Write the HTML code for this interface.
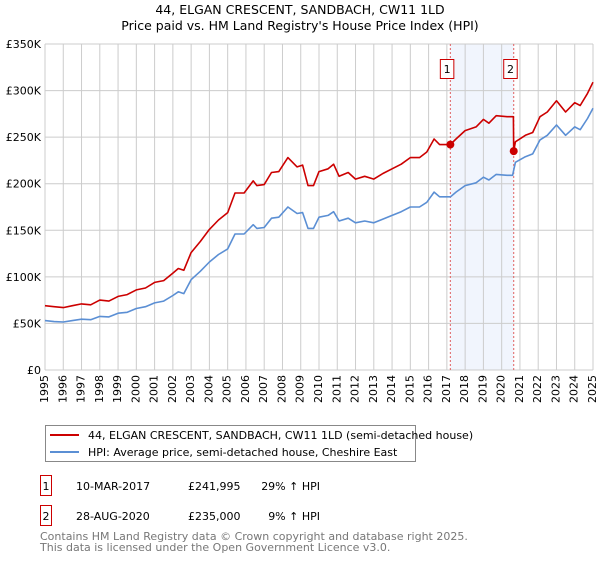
<!DOCTYPE html>
<html><head><meta charset="utf-8"><style>
body{margin:0;background:#fff;font-family:"Liberation Sans","DejaVu Sans",sans-serif;}
</style></head><body>
<svg width="600" height="560" viewBox="0 0 600 560" xmlns="http://www.w3.org/2000/svg" font-family="DejaVu Sans, Liberation Sans, sans-serif">
<text x="300" y="14" text-anchor="middle" font-size="12.5" fill="#000">44, ELGAN CRESCENT, SANDBACH, CW11 1LD</text>
<text x="300" y="30" text-anchor="middle" font-size="12.5" fill="#000">Price paid vs. HM Land Registry's House Price Index (HPI)</text>
<g id="plot"></g>
<g>
<rect x="45.5" y="425.5" width="370" height="36" fill="#fff" stroke="#888"/>
<line x1="50" y1="435" x2="79" y2="435" stroke="#cc0000" stroke-width="2"/>
<text x="88" y="439" font-size="11">44, ELGAN CRESCENT, SANDBACH, CW11 1LD (semi-detached house)</text>
<line x1="50" y1="452" x2="79" y2="452" stroke="#5b8fd4" stroke-width="2"/>
<text x="88" y="456" font-size="11">HPI: Average price, semi-detached house, Cheshire East</text>
</g>
<g font-size="11">
<rect x="40.5" y="475.5" width="11" height="20" fill="#fff" stroke="#cc0000"/>
<text x="46" y="490" text-anchor="middle">1</text>
<text x="76" y="490">10-MAR-2017</text>
<text x="188" y="490">£241,995</text>
<text x="320" y="490" text-anchor="end">29% ↑ HPI</text>
<rect x="40.5" y="505.5" width="11" height="20" fill="#fff" stroke="#cc0000"/>
<text x="46" y="520" text-anchor="middle">2</text>
<text x="76" y="520">28-AUG-2020</text>
<text x="188" y="520">£235,000</text>
<text x="320" y="520" text-anchor="end">9% ↑ HPI</text>
</g>
<text x="40" y="540" font-size="11" fill="#777">Contains HM Land Registry data © Crown copyright and database right 2025.</text>
<text x="40" y="551" font-size="11" fill="#777">This data is licensed under the Open Government Licence v3.0.</text>
</svg>
<script>
const hpiDates=[1995.0,1995.5,1996.0,1996.5,1997.0,1997.5,1998.0,1998.5,1999.0,1999.5,2000.0,2000.5,2001.0,2001.5,2002.0,2002.3,2002.6,2003.0,2003.5,2004.0,2004.5,2005.0,2005.4,2005.9,2006.4,2006.6,2007.0,2007.4,2007.8,2008.3,2008.8,2009.1,2009.4,2009.7,2010.0,2010.5,2010.8,2011.1,2011.6,2012.0,2012.5,2013.0,2013.5,2014.0,2014.5,2015.0,2015.5,2015.9,2016.3,2016.6,2017.2,2017.5,2018.0,2018.6,2019.0,2019.3,2019.7,2020.3,2020.6,2020.75,2021.3,2021.7,2022.1,2022.5,2023.0,2023.5,2024.0,2024.3,2024.7,2025.0];
const hpiValues=[53,52,51.5,53,54.5,54,57.5,57,61,62,66,68,72,74,80,84,82,97,106,116,124,130,146,146,156,152,153,163,164,175,168,169,152,152,164,166,170,160,163,158,160,158,162,166,170,175,175,180,191,186,186,191,198,201,207,204,210,209,209,223,229,232,247,252,263,252,261,258,270,281];
const priceDates=[1995.0,1995.5,1996.0,1996.5,1997.0,1997.5,1998.0,1998.5,1999.0,1999.5,2000.0,2000.5,2001.0,2001.5,2002.0,2002.3,2002.6,2003.0,2003.5,2004.0,2004.5,2005.0,2005.4,2005.9,2006.4,2006.6,2007.0,2007.4,2007.8,2008.3,2008.8,2009.1,2009.4,2009.7,2010.0,2010.5,2010.8,2011.1,2011.6,2012.0,2012.5,2013.0,2013.5,2014.0,2014.5,2015.0,2015.5,2015.9,2016.3,2016.6,2017.19,2017.5,2018.0,2018.6,2019.0,2019.3,2019.7,2020.3,2020.64,2020.66,2020.75,2021.3,2021.7,2022.1,2022.5,2023.0,2023.5,2024.0,2024.3,2024.7,2025.0];
const priceValues=[69,68,67,69,71,70,75,74,79,81,86,88,94,96,104,109,107,126,138,151,161,169,190,190,203,198,199,212,213,228,218,220,198,198,213,216,221,208,212,205,208,205,211,216,221,228,228,234,248,242,242,248,257,261,269,265,273,272,272,235,245,252,255,272,277,289,277,287,284,297,309];
const saleDates=[2017.19,2020.66];
const saleValues=[241.995,235];
const saleLabels=["1","2"];
const yTicks=[0,50,100,150,200,250,300,350];
const yTickLabels=["£0","£50K","£100K","£150K","£200K","£250K","£300K","£350K"];
const xYears=[1995,1996,1997,1998,1999,2000,2001,2002,2003,2004,2005,2006,2007,2008,2009,2010,2011,2012,2013,2014,2015,2016,2017,2018,2019,2020,2021,2022,2023,2024,2025];

const X0=45,X1=593,Y0=370,Y1=44;
const xs=d=>X0+(d-1995)/30*(X1-X0);
const ys=v=>Y0-v/350*(Y0-Y1);
const NS="http://www.w3.org/2000/svg";
const g=document.getElementById('plot');
function mk(t,a,p){const e=document.createElementNS(NS,t);for(const k in a)e.setAttribute(k,a[k]);(p||g).appendChild(e);return e;}

const band=mk('rect',{x:xs(saleDates[0]),y:Y1,width:xs(saleDates[1])-xs(saleDates[0]),height:Y0-Y1,fill:'#eef3fc',opacity:0.8});


xYears.forEach(yr=>{
 const l=mk('line',{x1:xs(yr),x2:xs(yr),y1:Y1,y2:Y0,stroke:'#cccccc','stroke-width':1});
 
 
 const t=mk('text',{x:0,y:0,'font-size':11,'text-anchor':'end','dominant-baseline':'middle',transform:`translate(${xs(yr)},375) rotate(-90)`});
 t.textContent=yr;
 
 
});
yTicks.forEach((v,i)=>{
 const l=mk('line',{x1:X0,x2:X1,y1:ys(v),y2:ys(v),stroke:'#cccccc','stroke-width':1});
 
 
 const t=mk('text',{x:41,y:ys(v)+4,'font-size':11,'text-anchor':'end'});
 t.textContent=yTickLabels[i];
 
 
});
saleDates.forEach((d,i)=>{
 const l=mk('line',{x1:xs(d),x2:xs(d),y1:Y1,y2:Y0,stroke:'#e06060','stroke-width':1,'stroke-dasharray':'2,2'});
 
 
});
function path(dates,vals,color,name){
 const d=dates.map((t,i)=>(i?'L':'M')+xs(t).toFixed(1)+','+ys(vals[i]).toFixed(1)).join('');
 const p=mk('path',{d:d,fill:'none',stroke:color,'stroke-width':1.6,'stroke-linejoin':'round'});
 
 
}
path(hpiDates,hpiValues,'#5b8fd4','hpi-line');
path(priceDates,priceValues,'#cc0000','price-line');
saleDates.forEach((d,i)=>{
 const c=mk('circle',{cx:xs(d),cy:ys(saleValues[i]),r:4,fill:'#cc0000'});
 
 
 const r=mk('rect',{x:xs(d)-10,y:59.5,width:13.5,height:19,fill:'#fff',stroke:'#cc0000'});
 
 
 const t=mk('text',{x:xs(d)-3.2,y:73,'font-size':11,'text-anchor':'middle'});
 t.textContent=saleLabels[i];
 
 
});
</script>
</body></html>
